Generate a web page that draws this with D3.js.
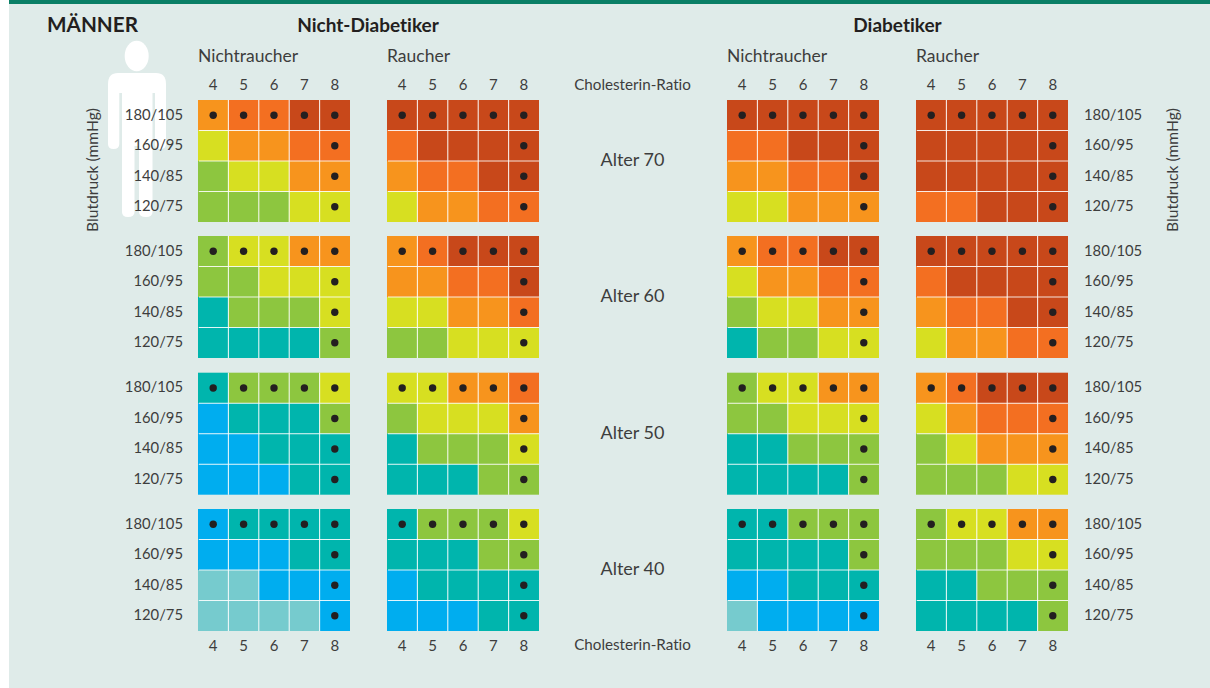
<!DOCTYPE html>
<html><head><meta charset="utf-8">
<script src="https://cdn.jsdelivr.net/npm/d3@7/dist/d3.min.js"></script>
<style>
html,body{margin:0;padding:0;background:#fff;overflow:hidden}
text{font-family:"Lato","Noto Sans",sans-serif;fill:#3d3d3d;font-variant-ligatures:none}
</style></head><body>
<svg id="c" width="1210" height="688"></svg>
<script>
const ratios=[4,5,6,7,8];
const pressures=["180/105","160/95","140/85","120/75"];
const ages=["Alter 70","Alter 60","Alter 50","Alter 40"];
const groupNames=["Nichtraucher","Raucher","Nichtraucher","Raucher"];
const riskColors=["#76CBCE","#00ADEF","#00B5AD","#8DC63F","#D7DF21","#F7941D","#F36F21","#C8481A"];
const dotRatio=8, dotPressure="180/105";

const a70_nd_ns=[[5,6,6,7,7],[4,5,5,6,6],[3,4,4,5,5],[3,3,3,4,4]];
const a70_nd_s =[[7,7,7,7,7],[6,7,7,7,7],[5,6,6,7,7],[4,5,5,6,6]];
const a70_d_ns =[[7,7,7,7,7],[6,6,7,7,7],[5,5,6,6,7],[4,4,5,5,5]];
const a70_d_s  =[[7,7,7,7,7],[7,7,7,7,7],[7,7,7,7,7],[6,6,7,7,7]];
const a60_nd_ns=[[3,4,4,5,5],[3,3,4,4,4],[2,3,3,3,4],[2,2,2,2,3]];
const a60_nd_s =[[5,6,7,7,7],[5,5,6,6,7],[4,4,5,5,6],[3,3,4,4,4]];
const a60_d_ns =[[5,6,6,7,7],[4,5,5,6,6],[3,4,4,5,5],[2,3,3,4,4]];
const a60_d_s  =[[7,7,7,7,7],[6,7,7,7,7],[5,6,6,7,7],[4,5,5,6,6]];
const a50_nd_ns=[[2,3,3,3,4],[1,2,2,2,3],[1,1,2,2,2],[1,1,1,2,2]];
const a50_nd_s =[[4,4,5,5,6],[3,4,4,4,5],[2,3,3,3,4],[2,2,2,3,3]];
const a50_d_ns =[[3,4,4,5,5],[3,3,4,4,4],[2,2,3,3,3],[2,2,2,2,3]];
const a50_d_s  =[[5,6,7,7,7],[4,5,6,6,6],[3,4,5,5,5],[3,3,3,4,4]];
const a40_nd_ns=[[1,2,2,2,2],[1,1,1,2,2],[0,0,1,1,1],[0,0,0,0,1]];
const a40_nd_s =[[2,3,3,3,4],[2,2,2,3,3],[1,2,2,2,2],[1,1,1,2,2]];
const a40_d_ns =[[2,2,3,3,3],[2,2,2,2,3],[1,1,2,2,2],[0,1,1,1,1]];
const a40_d_s  =[[3,4,4,5,5],[3,3,3,4,4],[2,2,3,3,3],[2,2,2,2,3]];
const grids=[
 [a70_nd_ns,a70_nd_s,a70_d_ns,a70_d_s],
 [a60_nd_ns,a60_nd_s,a60_d_ns,a60_d_s],
 [a50_nd_ns,a50_nd_s,a50_d_ns,a50_d_s],
 [a40_nd_ns,a40_nd_s,a40_d_ns,a40_d_s]];

const svg=d3.select("#c");
svg.append("rect").attr("x",9).attr("y",0).attr("width",1201).attr("height",688).attr("fill","#DFEBE9");
svg.append("rect").attr("x",9).attr("y",0).attr("width",1201).attr("height",4).attr("fill","#0A7F66");

// silhouette
svg.append("ellipse").attr("cx",136.7).attr("cy",56).attr("rx",12).attr("ry",15.2).attr("fill","#fff");
svg.append("path").attr("fill","#fff").attr("d",
 "M118,73 H156 Q166,73 166,84 V144 Q166,149 160.500,149 Q155,149 155,144 V93 H152.500 V212 Q152.500,217 146,217 Q139,217 139,212 V146 H134.500 V212 Q134.500,217 128,217 Q122,217 122,212 V93 H119.300 V144 Q119.300,149 113.500,149 Q108,149 108,144 V84 Q108,73 118,73 Z");

const panelX=[198,387,727,916];
const rowY=[100,236,372.700,509];
const W=152,H=122;
const x=d3.scaleBand().domain(ratios).range([0,W]);
const y=d3.scaleBand().domain(pressures).range([0,H]);
const styleAxis=(g,size)=>{g.select(".domain").remove();g.selectAll("text").attr("fill","#3d3d3d").style("font-size",size+"px").style("font-family","Lato");};

grids.forEach((row,ri)=>{
  row.forEach((grid,pi)=>{
    const g=svg.append("g").attr("transform",`translate(${panelX[pi]},${rowY[ri]})`);
    const cells=grid.flatMap((vals,r)=>vals.map((v,c)=>({v,ratio:ratios[c],p:pressures[r]})));
    g.selectAll("rect.cell").data(cells).join("rect").attr("class","cell")
      .attr("x",d=>x(d.ratio)).attr("y",d=>y(d.p))
      .attr("width",x.bandwidth()).attr("height",y.bandwidth())
      .attr("fill",d=>riskColors[d.v]);
    g.selectAll("line.v").data(ratios.slice(1)).join("line").attr("class","v")
      .attr("x1",d=>x(d)).attr("x2",d=>x(d)).attr("y1",0).attr("y2",H)
      .attr("stroke","#fff").attr("stroke-width",1.1).attr("stroke-opacity",.85);
    g.selectAll("line.h").data(pressures.slice(1)).join("line").attr("class","h")
      .attr("y1",d=>y(d)).attr("y2",d=>y(d)).attr("x1",1).attr("x2",W)
      .attr("stroke","#fff").attr("stroke-width",1.1).attr("stroke-opacity",.85);
    g.selectAll("circle").data(cells.filter(d=>d.ratio===dotRatio||d.p===dotPressure)).join("circle")
      .attr("cx",d=>x(d.ratio)+x.bandwidth()/2).attr("cy",d=>y(d.p)+y.bandwidth()/2)
      .attr("r",3.7).attr("fill","#231F20");
    if(ri===0) g.append("g").attr("transform","translate(0,-10)")
      .call(d3.axisTop(x).tickSize(0).tickPadding(0)).call(s=>styleAxis(s,15));
    if(ri===3) g.append("g").attr("transform",`translate(0,${H+9})`)
      .call(d3.axisBottom(x).tickSize(0).tickPadding(0)).call(s=>styleAxis(s,15));
  });
  svg.append("g").attr("transform",`translate(183,${rowY[ri]-0.5})`)
    .call(d3.axisLeft(y).tickSize(0).tickPadding(0)).call(s=>styleAxis(s,14.800));
  svg.append("g").attr("transform",`translate(1084,${rowY[ri]-0.5})`)
    .call(d3.axisRight(y).tickSize(0).tickPadding(0)).call(s=>styleAxis(s,14.800));
  svg.append("text").attr("x",632.500).attr("y",rowY[ri]+66).attr("text-anchor","middle")
    .attr("font-size",18).text(ages[ri]);
});

const label=(t,xp,yp,size,anchor,weight)=>svg.append("text").attr("x",xp).attr("y",yp)
  .attr("font-size",size).attr("text-anchor",anchor||"start").attr("font-weight",weight||400).text(t);
label("MÄNNER",47,32,20.700,"start",700).style("fill","#231F20");
label("Nicht-Diabetiker",368,32,19,"middle",700).style("fill","#231F20");
label("Diabetiker",897.500,32,19,"middle",700).style("fill","#231F20");
groupNames.forEach((t,i)=>label(t,panelX[i],62,17.500));
label("Cholesterin-Ratio",632.500,90,15.200,"middle");
label("Cholesterin-Ratio",632.500,650,15.200,"middle");
[92.500,1173].forEach(xp=>{
  svg.append("text").attr("transform",`translate(${xp+5},170) rotate(-90)`)
   .attr("text-anchor","middle").attr("font-size",15.600).text("Blutdruck (mmHg)");
});
</script></body></html>
